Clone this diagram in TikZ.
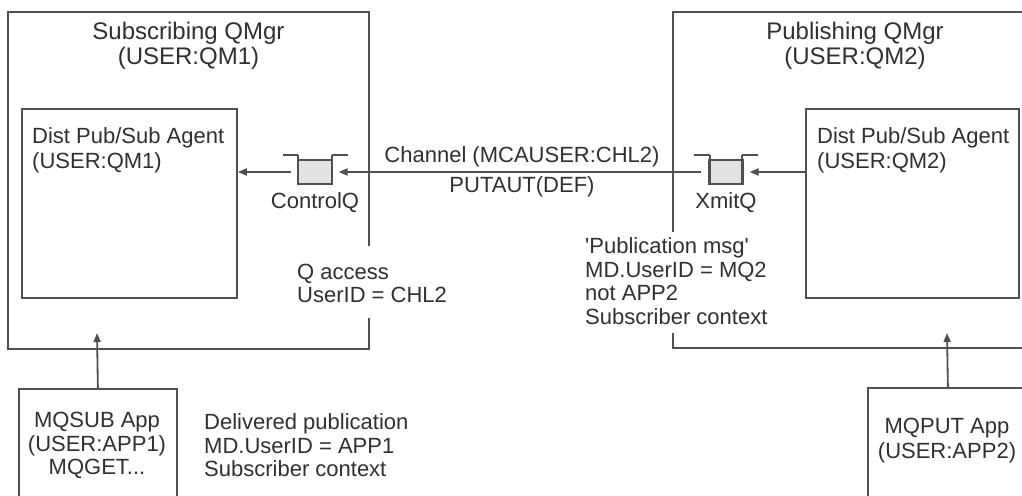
\documentclass[tikz,border=0pt]{standalone}
\usepackage{fontspec}
\setmainfont{Liberation Sans}
\usetikzlibrary{arrows.meta}
\definecolor{lncol}{HTML}{505050}
\definecolor{txcol}{HTML}{303030}
\definecolor{qfill}{HTML}{E2E2E2}
\begin{document}
\begin{tikzpicture}[x=1pt,y=-1pt,
  every node/.style={text=txcol, inner sep=0pt},
  txt/.style={font=\fontsize{22}{23.5}\selectfont, align=left},
  ctxt/.style={font=\fontsize{22}{24}\selectfont, align=center},
  agtxt/.style={font=\fontsize{22}{25}\selectfont, align=left},
  ttl/.style={font=\fontsize{24}{25}\selectfont, align=center},
  box/.style={draw=lncol, line width=1.8pt},
  edge/.style={draw=lncol, line width=1.8pt},
  arr/.style={edge, -{Triangle[length=9pt,width=7pt]}},
  qwall/.style={draw=lncol, line width=2.6pt},
  qbar/.style={draw=lncol, line width=1.5pt},
  qbox/.style={draw=lncol, fill=qfill, line width=1.1pt, minimum width=34pt, minimum height=24pt},
]
\clip (0,0) rectangle (1022,495);
\fill[white] (0,0) rectangle (1022,495);

% outer queue manager boxes (with gaps for the labels)
\draw[edge] (369,246) -- (369,12) -- (8,12) -- (8,349) -- (369,349) -- (369,318);
\draw[edge] (673,232) -- (673,12) -- (1040,12);
\draw[edge] (673,333) -- (673,348) -- (1040,348);

\node[ttl] (tL) at (188.5,45.5) {Subscribing QMgr\\(USER:QM1)};
\node[ttl] (tR) at (855,45.5) {Publishing QMgr\\(USER:QM2)};

% agents
\node[box, anchor=north west, minimum width=215pt, minimum height=189pt] (inL) at (21,108) {};
\node[box, anchor=north west, minimum width=213pt, minimum height=189pt] (inR) at (805,108) {};
\node[agtxt, anchor=west] (inLt) at (32,150.5) {Dist Pub/Sub Agent\\(USER:QM1)};
\node[agtxt, anchor=west] (inRt) at (817,150.5) {Dist Pub/Sub Agent\\(USER:QM2)};

% queues
\node[qbox] (cq) at (315,172) {};
\draw[qbar] (283,155) -- (298,155);
\draw[qbar] (332,155) -- (348,155);
\draw[qwall] (298,155) -- (298,184) -- (332,184) -- (332,155);
\node[ctxt] (cql) at (315,203) {ControlQ};

\node[qbox] (xq) at (726,172) {};
\draw[qbar] (694,155) -- (710,155);
\draw[qbar] (742,155) -- (758,155);
\draw[qwall] (710,155) -- (710,184) -- (742,184) -- (742,155);
\node[ctxt] (xql) at (726,203) {XmitQ};

% connectors
\draw[arr, shorten <=6pt] (cq.west) -- (inL.east |- cq.west);
\draw[arr, shorten <=7pt, shorten >=6pt] (xq.west) -- (cq.east);
\draw[arr, shorten >=6pt] (inR.west |- xq.east) -- (xq.east);

\node[ctxt] (chl) at (522,157) {Channel (MCAUSER:CHL2)};
\node[ctxt] (pa) at (522,187) {PUTAUT(DEF)};

% annotations
\node[txt, anchor=west] (qa) at (297,283.5) {Q access\\UserID = CHL2};
\node[txt, anchor=west] (pm) at (585,281) {\textquotesingle Publication msg\textquotesingle\\MD.UserID = MQ2\\not APP2\\Subscriber context};
\node[txt, anchor=west] (dp) at (204,445.5) {Delivered publication\\MD.UserID = APP1\\Subscriber context};

% applications
\node[box, anchor=north west, minimum width=158pt, minimum height=130pt] (sub) at (18,388) {};
\node[ctxt, font=\fontsize{22}{23.5}\selectfont] (subt) at (97,445.5) {MQSUB App\\(USER:APP1)\\MQGET...};
\node[box, anchor=north west, minimum width=160pt, minimum height=130pt] (pub) at (867,387) {};
\node[ctxt, font=\fontsize{22}{25}\selectfont] (pubt) at (947,440.5) {MQPUT App\\(USER:APP2)};

\coordinate (subtip) at (97,333);
\coordinate (pubtip) at (947,333);
\draw[arr] (sub.north) -- (subtip);
\draw[arr] (pub.north) -- (pubtip);
\end{tikzpicture}
\end{document}
